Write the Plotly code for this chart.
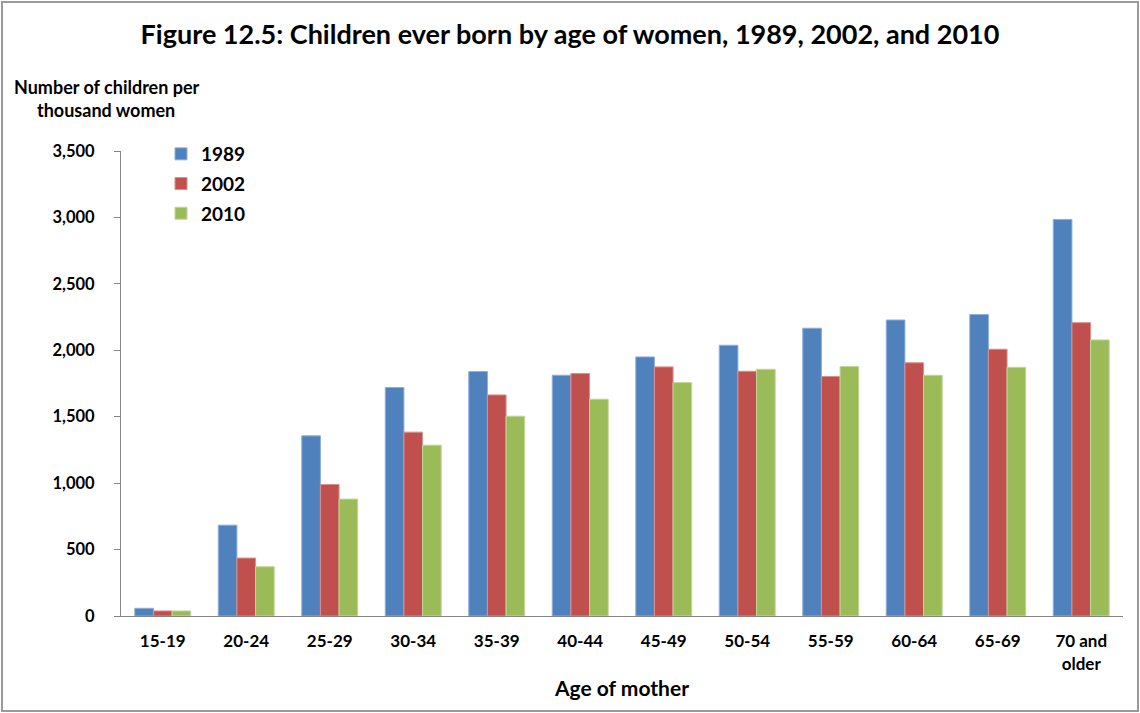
import plotly.graph_objects as go

ages = ["15-19", "20-24", "25-29", "30-34", "35-39", "40-44",
        "45-49", "50-54", "55-59", "60-64", "65-69", "70 and<br>older"]
y1989 = [58, 684, 1356, 1720, 1840, 1812, 1950, 2038, 2166, 2228, 2269, 2985]
y2002 = [38, 436, 990, 1384, 1664, 1825, 1875, 1842, 1803, 1906, 2008, 2208]
y2010 = [38, 371, 880, 1286, 1504, 1632, 1757, 1857, 1878, 1812, 1872, 2078]
years = ["1989", "2002", "2010"]
colors = ["#4F81BD", "#C0504D", "#9BBB59"]
edges = ["#8EAEDC", "#DC8E8C", "#C2D89A"]

W, H = 1140, 713
L, R, T, B = 121, 17, 151, 97
pw, ph = W - L - R, H - T - B


def px_x(p):
    return (p - L) / pw


def px_y(p):
    return (H - B - p) / ph


font = "Lato, Carlito, Calibri, sans-serif"

fig = go.Figure()
for name, vals, c, e in zip(years, [y1989, y2002, y2010], colors, edges):
    fig.add_trace(go.Bar(
        x=ages, y=vals, name="<b>" + name + "</b>", legendgroup=name,
        marker=dict(color=c, line=dict(color=e, width=1)),
    ))

fig.update_layout(
    width=W, height=H,
    margin=dict(l=L, r=R, t=T, b=B),
    plot_bgcolor="white", paper_bgcolor="white",
    barmode="group", bargap=0.33, bargroupgap=0,
    font=dict(family=font, color="black"),
    title=dict(
        text="<b>Figure 12.5: Children ever born by age of women, 1989, 2002, and 2010</b>",
        x=0.5, xanchor="center", y=1 - 35 / H, yanchor="middle",
        font=dict(size=27),
    ),
    legend=dict(
        x=px_x(161), xanchor="left", y=px_y(135), yanchor="top",
        font=dict(size=19), bgcolor="rgba(0,0,0,0)",
        traceorder="grouped", tracegroupgap=2, itemwidth=30,
    ),
    showlegend=True,
)

fig.update_yaxes(
    range=[0, 3500], dtick=500, tickformat=",",
    showgrid=False, zeroline=False,
    showline=True, linecolor="#868686", linewidth=1,
    ticks="outside", ticklen=6, tickcolor="#868686",
    tickfont=dict(size=16.5, family=font), ticklabelstandoff=16,
    tickprefix="<b>", ticksuffix="</b>",
)
fig.update_xaxes(
    showgrid=False, showline=True, linecolor="#868686", linewidth=1,
    ticks="", tickfont=dict(size=17, family=font), ticklabelstandoff=10,
    tickvals=ages, ticktext=["<b>" + a + "</b>" for a in ages],
    title=dict(text="<b>Age of mother</b>", font=dict(size=21), standoff=8),
)

fig.add_annotation(
    text="<b>Number of children per</b>", xref="paper", yref="paper",
    x=px_x(107), y=px_y(87), xanchor="center", yanchor="middle",
    showarrow=False, font=dict(size=18),
)
fig.add_annotation(
    text="<b>thousand women</b>", xref="paper", yref="paper",
    x=px_x(106), y=px_y(110), xanchor="center", yanchor="middle",
    showarrow=False, font=dict(size=18),
)

fig.add_shape(
    type="rect", xref="paper", yref="paper",
    x0=px_x(2), x1=px_x(1138), y0=px_y(711), y1=px_y(2),
    line=dict(color="#9A9A9A", width=2), layer="below",
)

fig.write_html(
    "out.html",
    config={"displayModeBar": False},
    post_script="document.documentElement.style.cssText='margin:0;padding:0;overflow:hidden;height:713px;';"
                "document.body.style.cssText='margin:0;padding:0;overflow:hidden;height:713px;line-height:0;';",
)
